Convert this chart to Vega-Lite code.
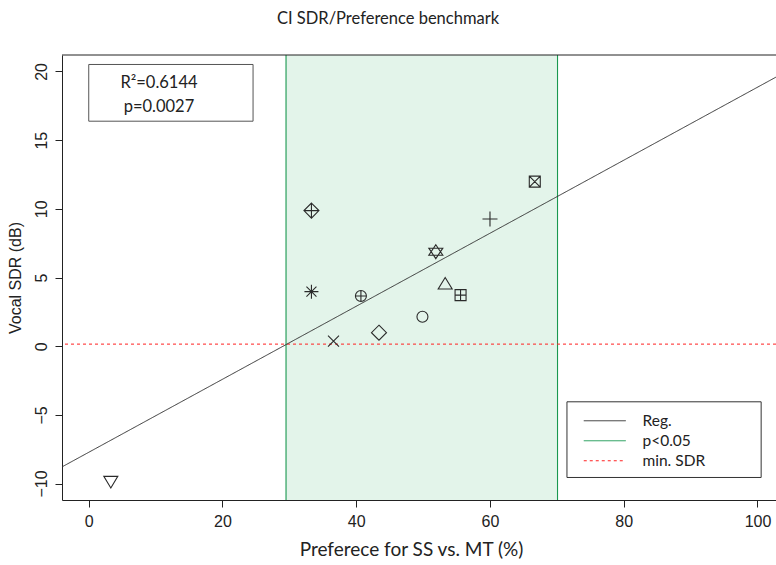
{
  "$schema": "https://vega.github.io/schema/vega-lite/v6.json",
  "width": 714,
  "height": 445,
  "autosize": {"type": "none"},
  "padding": {"left": 62, "top": 55, "right": 0, "bottom": 65},
  "background": "white",
  "title": {"text": "CI SDR/Preference benchmark", "font": "Lato", "fontSize": 16.5, "fontWeight": "normal", "color": "#222", "anchor": "middle", "offset": 27, "dx": -31},
  "config": {
    "view": {"stroke": null},
    "axis": {"grid": false, "domainColor": "#222", "tickColor": "#222", "tickSize": 7, "labelColor": "#222", "titleColor": "#222", "titleFontWeight": "normal"},
    "legend": {"orient": "none", "legendX": 535, "legendY": 358, "padding": 0, "symbolType": "M-6,0L6,0", "symbolSize": 49, "symbolStrokeWidth": 1, "labelFont": "Lato", "labelFontSize": 15.5, "labelColor": "#222", "labelOffset": 30, "rowPadding": 3, "title": null}
  },
  "datasets": {
    "pts": [
      {"pref": 49.9, "sdr": 2.14, "pch": "p1"},
      {"pref": 53.3, "sdr": 4.58, "pch": "p2"},
      {"pref": 60.0, "sdr": 9.26, "pch": "p3"},
      {"pref": 36.6, "sdr": 0.37, "pch": "p4"},
      {"pref": 43.4, "sdr": 0.98, "pch": "p5"},
      {"pref": 3.3, "sdr": -9.9, "pch": "p6"},
      {"pref": 66.7, "sdr": 11.98, "pch": "p7"},
      {"pref": 33.3, "sdr": 3.97, "pch": "p8"},
      {"pref": 33.3, "sdr": 9.87, "pch": "p9"},
      {"pref": 40.7, "sdr": 3.65, "pch": "p10"},
      {"pref": 51.9, "sdr": 6.88, "pch": "p11"},
      {"pref": 55.6, "sdr": 3.72, "pch": "p12"}
    ],
    "reg": [
      {"x": -4, "y": -8.79, "series": "Reg."},
      {"x": 102.77, "y": 19.59, "series": "Reg."}
    ],
    "bounds": [
      {"x": 29.5, "series": "p<0.05"},
      {"x": 70.1, "series": "p<0.05"}
    ],
    "minsdr": [
      {"y": 0.15, "series": "min. SDR"}
    ],
    "band": [
      {"lo": 29.5, "hi": 70.1}
    ],
    "one": [{}]
  },
  "layer": [
    {
      "data": {"name": "band"},
      "mark": {"type": "rect", "fill": "#e3f4ea", "stroke": null},
      "encoding": {
        "x": {"field": "lo", "type": "quantitative", "scale": {"domain": [-4, 102.77], "nice": false, "zero": false}, "axis": {"values": [0, 20, 40, 60, 80, 100], "labelFont": "Liberation Sans", "labelFontSize": 16, "labelPadding": 6, "title": "Preferece for SS vs. MT (%)", "titleFont": "Lato", "titleFontSize": 19, "titlePadding": 11, "titleX": 349}},
        "x2": {"field": "hi"},
        "y": {"datum": -11.2, "type": "quantitative", "scale": {"domain": [-11.2, 21.2], "nice": false, "zero": false}, "axis": {"values": [-10, -5, 0, 5, 10, 15, 20], "labelFont": "Liberation Sans", "labelFontSize": 16, "labelAngle": -90, "labelAlign": "center", "labelBaseline": "alphabetic", "labelPadding": 9, "title": "Vocal SDR (dB)", "titleFont": "Liberation Sans", "titleFontSize": 16, "titlePadding": 10}},
        "y2": {"datum": 21.2}
      }
    },
    {
      "data": {"name": "bounds"},
      "mark": {"type": "rule", "strokeWidth": 1.1},
      "encoding": {
        "x": {"field": "x", "type": "quantitative"},
        "color": {"field": "series", "type": "nominal", "scale": {"domain": ["Reg.", "p<0.05", "min. SDR"], "range": ["#333333", "#1a9850", "#ff2020"]},
          "legend": {"encode": {"symbols": {"update": {"stroke": {"scale": "color", "field": "value"}, "strokeDash": {"scale": "strokeDash", "field": "value"}, "fill": {"value": "transparent"}}}}}},
        "strokeDash": {"field": "series", "type": "nominal", "scale": {"domain": ["Reg.", "p<0.05", "min. SDR"], "range": [[1, 0], [1, 0], [3, 3]]}}
      }
    },
    {
      "data": {"name": "minsdr"},
      "mark": {"type": "rule", "strokeWidth": 1},
      "encoding": {
        "y": {"field": "y", "type": "quantitative"},
        "color": {"field": "series", "type": "nominal"},
        "strokeDash": {"field": "series", "type": "nominal"}
      }
    },
    {
      "data": {"name": "reg"},
      "mark": {"type": "line", "strokeWidth": 1, "clip": true},
      "encoding": {
        "x": {"field": "x", "type": "quantitative"},
        "y": {"field": "y", "type": "quantitative"},
        "color": {"field": "series", "type": "nominal"},
        "strokeDash": {"field": "series", "type": "nominal"}
      }
    },
    {
      "data": {"name": "pts"},
      "mark": {"type": "point", "filled": false, "color": "#2a2a2a", "strokeWidth": 1.1, "size": 225, "opacity": 1},
      "encoding": {
        "x": {"field": "pref", "type": "quantitative"},
        "y": {"field": "sdr", "type": "quantitative"},
        "shape": {"field": "pch", "type": "nominal", "legend": null, "scale": {
          "domain": ["p1", "p2", "p3", "p4", "p5", "p6", "p7", "p8", "p9", "p10", "p11", "p12"],
          "range": [
            "M-0.733,0A0.733,0.733,0,1,0,0.733,0A0.733,0.733,0,1,0,-0.733,0Z",
            "M0,-0.773L0.933,0.773L-0.933,0.773Z",
            "M-1,0L1,0M0,-1L0,1",
            "M-0.733,-0.733L0.733,0.733M-0.733,0.733L0.733,-0.733",
            "M0,-1L1,0L0,1L-1,0Z",
            "M0,0.773L0.933,-0.773L-0.933,-0.773Z",
            "M-0.733,-0.733L0.733,-0.733L0.733,0.733L-0.733,0.733ZM-0.733,-0.733L0.733,0.733M-0.733,0.733L0.733,-0.733",
            "M-0.933,0L0.933,0M0,-0.933L0,0.933M-0.667,-0.667L0.667,0.667M-0.667,0.667L0.667,-0.667",
            "M0,-1L1,0L0,1L-1,0ZM-1,0L1,0M0,-1L0,1",
            "M-0.733,0A0.733,0.733,0,1,0,0.733,0A0.733,0.733,0,1,0,-0.733,0ZM-0.733,0L0.733,0M0,-0.733L0,0.733",
            "M0,-0.933L0.933,0.467L-0.933,0.467ZM0,0.933L0.933,-0.467L-0.933,-0.467Z",
            "M-0.733,-0.733L0.733,-0.733L0.733,0.733L-0.733,0.733ZM-0.733,0L0.733,0M0,-0.733L0,0.733"
          ]}}
      }
    },
    {
      "data": {"name": "one"},
      "mark": {"type": "rule", "color": "#222", "strokeWidth": 1},
      "encoding": {"y": {"datum": 21.2, "type": "quantitative"}}
    },
    {
      "data": {"name": "one"},
      "mark": {"type": "rect", "fill": "white", "stroke": "#555", "strokeWidth": 1},
      "encoding": {
        "x": {"datum": 0, "type": "quantitative"},
        "x2": {"datum": 24.57},
        "y": {"datum": 20.51, "type": "quantitative"},
        "y2": {"datum": 16.38}
      }
    },
    {
      "data": {"name": "one"},
      "mark": {"type": "text", "text": "R²=0.6144", "font": "Lato", "fontSize": 16.5, "color": "#222", "align": "center", "baseline": "middle"},
      "encoding": {
        "x": {"datum": 10.5, "type": "quantitative"},
        "y": {"datum": 19.15, "type": "quantitative"}
      }
    },
    {
      "data": {"name": "one"},
      "mark": {"type": "text", "text": "p=0.0027", "font": "Lato", "fontSize": 16.5, "color": "#222", "align": "center", "baseline": "middle"},
      "encoding": {
        "x": {"datum": 10.5, "type": "quantitative"},
        "y": {"datum": 17.41, "type": "quantitative"}
      }
    },
    {
      "data": {"name": "one"},
      "mark": {"type": "rect", "fill": null, "stroke": "#333", "strokeWidth": 1},
      "encoding": {
        "x": {"datum": 71.51, "type": "quantitative"},
        "x2": {"datum": 100.55},
        "y": {"datum": -4.05, "type": "quantitative"},
        "y2": {"datum": -9.56}
      }
    }
  ]
}
